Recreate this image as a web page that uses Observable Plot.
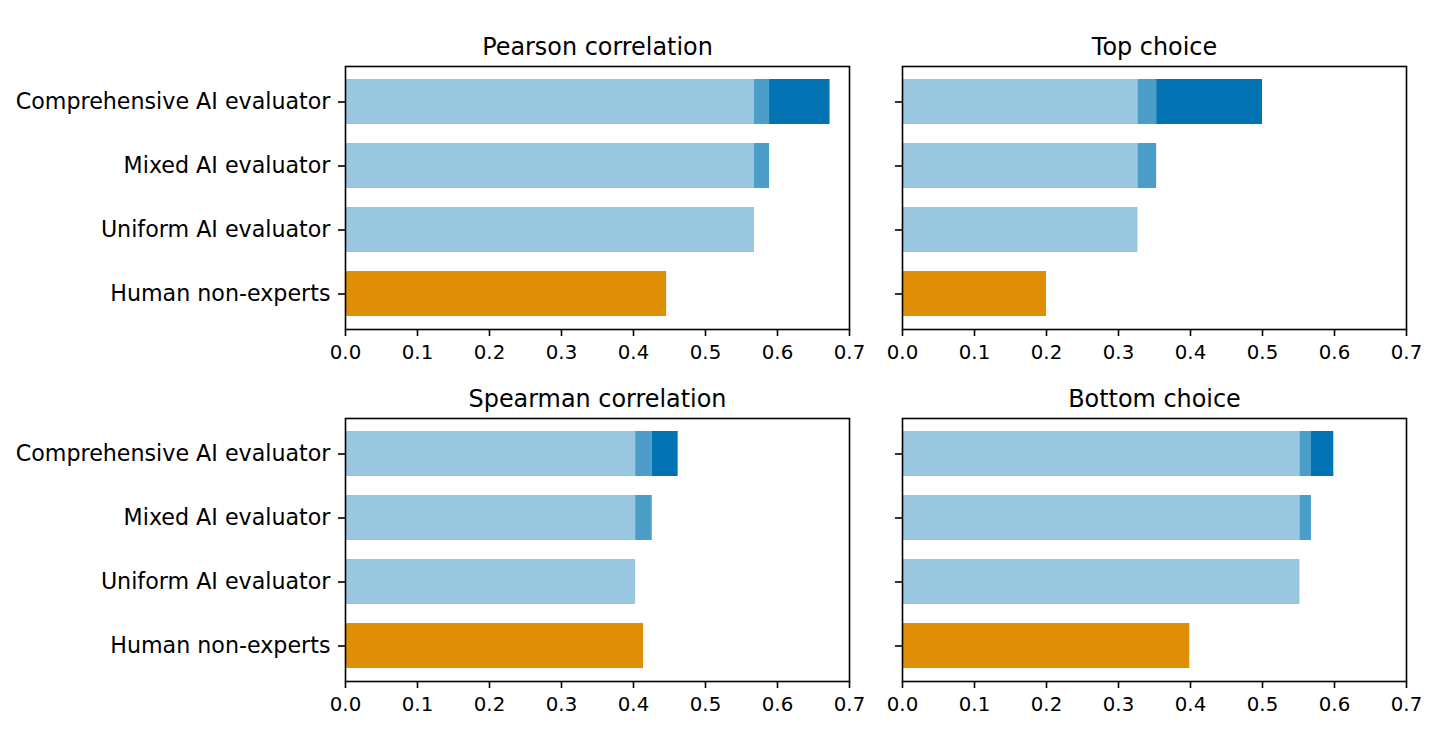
<!DOCTYPE html>
<html>
<head>
<meta charset="utf-8">
<script src="https://cdn.jsdelivr.net/npm/d3@7"></script>
<script src="https://cdn.jsdelivr.net/npm/@observablehq/plot@0.6"></script>
<style>
  html, body { margin: 0; padding: 0; background: white; }
  #root { position: relative; width: 1456px; height: 747px; background: white; overflow: hidden; }
  .panel { position: absolute; }
</style>
</head>
<body>
<div id="root"></div>
<script>
// ---- Data ----
const categories = ["Comprehensive AI evaluator", "Mixed AI evaluator", "Uniform AI evaluator", "Human non-experts"];
const panelTitles = ["Pearson correlation", "Top choice", "Spearman correlation", "Bottom choice"];
const uniformValues = [0.568, 0.327, 0.403, 0.552];
const mixedValues = [0.589, 0.353, 0.426, 0.568];
const comprehensiveValues = [0.673, 0.500, 0.462, 0.599];
const humanValues = [0.446, 0.200, 0.414, 0.399];
const xTicks = [0, 0.1, 0.2, 0.3, 0.4, 0.5, 0.6, 0.7];
const partNames = ["uniform", "mixed", "comprehensive", "human"];
const partColors = ["#99c7e0", "#4d9dc9", "#0173b2", "#de8f05"];

function segments(i) {
  const u = uniformValues[i], m = mixedValues[i], c = comprehensiveValues[i], h = humanValues[i];
  return [
    {cat: categories[0], x1: 0, x2: u, part: "uniform"},
    {cat: categories[0], x1: u, x2: m, part: "mixed"},
    {cat: categories[0], x1: m, x2: c, part: "comprehensive"},
    {cat: categories[1], x1: 0, x2: u, part: "uniform"},
    {cat: categories[1], x1: u, x2: m, part: "mixed"},
    {cat: categories[2], x1: 0, x2: u, part: "uniform"},
    {cat: categories[3], x1: 0, x2: h, part: "human"}
  ];
}

const frameW = 504, frameH = 263;
const layout = [
  {left: 0,   top: 0,   mL: 345, labels: true,  z: 2},
  {left: 882, top: 0,   mL: 20,  labels: false, z: 2},
  {left: 0,   top: 352, mL: 345, labels: true,  z: 1},
  {left: 882, top: 352, mL: 20,  labels: false, z: 1}
];

const root = document.getElementById("root");
layout.forEach((L, i) => {
  const mT = 66, mB = 45, mR = 16;
  const chart = Plot.plot({
    width: L.mL + frameW + mR,
    height: mT + frameH + mB,
    marginLeft: L.mL, marginRight: mR, marginTop: mT, marginBottom: mB,
    x: {domain: [0, 0.7]},
    y: {domain: categories, paddingInner: 0.3, paddingOuter: 0.2},
    color: {domain: partNames, range: partColors},
    style: {fontFamily: "'DejaVu Sans', sans-serif", color: "black", background: "transparent", overflow: "visible"},
    marks: [
      Plot.barX(segments(i), {x1: "x1", x2: "x2", y: "cat", fill: "part"}),
      Plot.frame({stroke: "black", strokeWidth: 1.6}),
      Plot.axisX({ticks: xTicks, tickFormat: d3.format(".1f"), tickSize: 7, tickPadding: 8, fontSize: 19.8, strokeWidth: 1.6, label: null}),
      Plot.axisY({tickSize: 7, tickPadding: 8, fontSize: 22.2, strokeWidth: 1.6, label: null,
                  tickFormat: L.labels ? (d => d) : (() => "")}),
      Plot.text([panelTitles[i]], {text: d => d, frameAnchor: "top", dy: -12, lineAnchor: "bottom", fontSize: 23.9})
    ]
  });
  const div = document.createElement("div");
  div.className = "panel";
  div.style.left = L.left + "px";
  div.style.top = L.top + "px";
  div.style.zIndex = L.z;
  div.appendChild(chart);
  root.appendChild(div);
});
</script>
</body>
</html>
